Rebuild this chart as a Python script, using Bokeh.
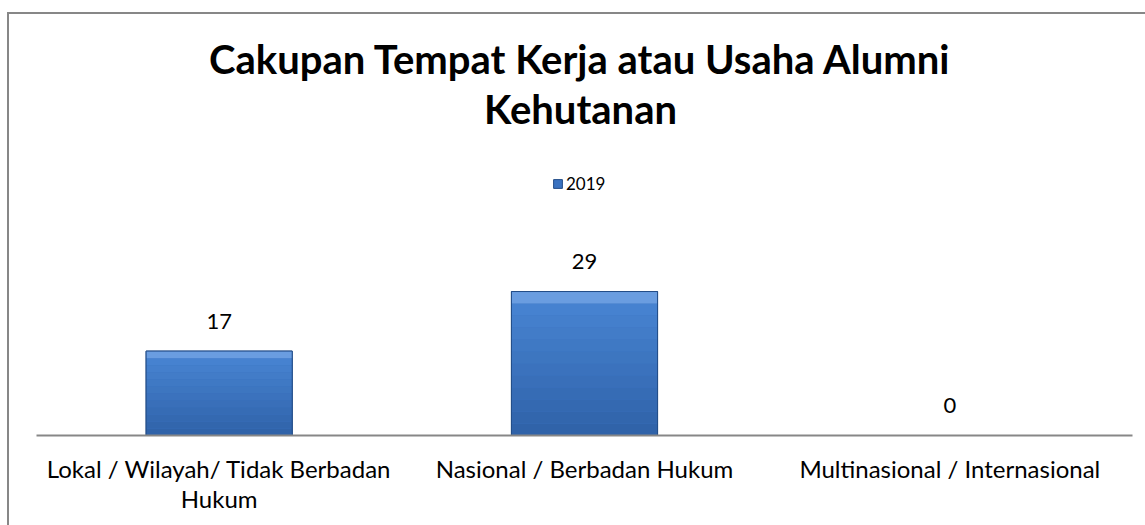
from bokeh.plotting import figure
from bokeh.models import (FactorRange, Range1d, Label, Legend, LegendItem,
                          ColumnDataSource, CategoricalAxis)
from bokeh.core.properties import value
from bokeh.embed import file_html
from bokeh.resources import INLINE

# ---- data ----
categories = ["Lokal / Wilayah/ Tidak Berbadan Hukum",
              "Nasional / Berbadan Hukum",
              "Multinasional / Internasional"]
values_2019 = [17, 29, 0]
series_name = "2019"
title_lines = ["Cakupan Tempat Kerja atau Usaha Alumni", "Kehutanan"]
# wrapped display text for long category labels
wrap = {"Lokal / Wilayah/ Tidak Berbadan Hukum": "Lokal / Wilayah/ Tidak Berbadan\nHukum"}
factors = [wrap.get(c, c) for c in categories]

FONT = "Lato"

p = figure(width=1138, height=513, x_range=FactorRange(*factors, range_padding=0),
           y_range=Range1d(0, 84.8), output_backend="svg", toolbar_location=None,
           title=None, x_axis_location=None, y_axis_location=None,
           min_border_left=27, min_border_right=15, min_border_top=0,
           min_border_bottom=92)
p.styles = {"border-left": "2px solid #878787", "border-top": "2px solid #878787",
            "margin": "12px 0 0 7px", "box-sizing": "border-box"}
p.outline_line_color = None
p.xgrid.visible = False
p.ygrid.visible = False
p.background_fill_color = "white"
p.border_fill_color = "white"

src = ColumnDataSource(dict(cat=factors, val=values_2019,
                            lbl=[str(v) for v in values_2019]))

# base bar (legend entry)
base = p.vbar(x="cat", top="val", width=0.4, source=src,
              fill_color="#3a72c0", line_color="#234d88", line_width=1)

# gradient slices (fractions of each bar's height)
N = 12
top_c = (0x4a, 0x87, 0xd6)
bot_c = (0x2f, 0x62, 0xa8)
for i in range(N):
    f0 = i / N
    f1 = (i + 1) / N
    t = (i + 0.5) / N
    c = tuple(int(bot_c[k] + (top_c[k] - bot_c[k]) * t) for k in range(3))
    col = "#%02x%02x%02x" % c
    if i == N - 1:
        col = "#6a9de0"
    p.vbar(x=factors, bottom=[v * f0 for v in values_2019],
           top=[v * f1 for v in values_2019], width=0.4,
           fill_color=col, line_color=None)
# outline on top
p.vbar(x="cat", top="val", width=0.4, source=src, fill_alpha=0,
       line_color="#234d88", line_width=1)

# value labels
p.text(x="cat", y="val", text="lbl", source=src, text_align="center",
       text_baseline="alphabetic", y_offset=-30,
       text_font=value(FONT), text_font_size="22px", text_color="black")

# category axis
ax = CategoricalAxis()
ax.axis_line_color = "#878787"
ax.axis_line_width = 2
ax.major_tick_line_color = None
ax.minor_tick_line_color = None
ax.major_tick_out = 0
ax.major_tick_in = 0
ax.major_label_standoff = 18
ax.major_label_text_font = FONT
ax.major_label_text_font_size = "24px"
ax.major_label_text_color = "black"
ax.major_label_text_align = "center"
ax.major_label_text_line_height = 1.04
p.add_layout(ax, "below")

# title
for txt, yy in zip(title_lines, [377, 327]):
    p.add_layout(Label(x=544, y=yy, x_units="screen", y_units="screen",
                       text=txt, text_align="center",
                       text_baseline="alphabetic", text_font=FONT,
                       text_font_size="40px", text_font_style="bold",
                       text_color="black"))

# legend
legend = Legend(items=[LegendItem(label=series_name, renderers=[base])],
                location=(516, 241), orientation="horizontal",
                padding=0, margin=0, spacing=0, border_line_color=None,
                background_fill_alpha=0, label_standoff=3,
                glyph_width=11, glyph_height=11,
                label_text_font=FONT, label_text_font_size="17px",
                label_text_color="black")
p.add_layout(legend)

open("out.html", "w").write(file_html(p, INLINE))
